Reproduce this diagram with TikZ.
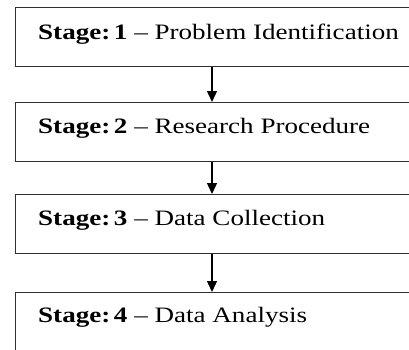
\documentclass[tikz,border=0pt]{standalone}
\usepackage{fontspec}
\setmainfont{Liberation Serif}[FakeStretch=1.23]
\usetikzlibrary{arrows.meta}
\definecolor{edge}{HTML}{303030}
\tikzset{
  stagebox/.style={draw=edge, line width=1.3pt, anchor=north west, minimum width=430pt, minimum height=59pt, inner sep=0pt},
  stagetext/.style={anchor=base west, inner sep=0pt, text=black, font=\fontsize{22}{26}\selectfont},
  flow/.style={draw=black, line width=1.3pt, -{Triangle[length=11pt,width=10pt]}}
}
\begin{document}
\begin{tikzpicture}[x=1pt,y=-1pt]
\useasboundingbox (0,0) rectangle (409,349);
\clip (0,0) rectangle (409,349);
\node[stagebox] (s1) at (15,7) {};
\node[stagebox] (s2) at (15,102) {};
\node[stagebox] (s3) at (15,194) {};
\node[stagebox] (s4) at (15,292) {};
\coordinate (ax) at (212,0);
\node[stagetext] (t1) at (38,39) {\textbf{Stage:\,1} -- Problem Identification};
\node[stagetext] (t2) at (38,133) {\textbf{Stage:\,2} -- Research Procedure};
\node[stagetext] (t3) at (38,225) {\textbf{Stage:\,3} -- Data Collection};
\node[stagetext] (t4) at (38,322) {\textbf{Stage:\,4} -- Data Analysis};
\draw[flow] (s1.south -| ax) -- (s2.north -| ax);
\draw[flow] (s2.south -| ax) -- (s3.north -| ax);
\draw[flow] (s3.south -| ax) -- (s4.north -| ax);
\end{tikzpicture}
\end{document}
